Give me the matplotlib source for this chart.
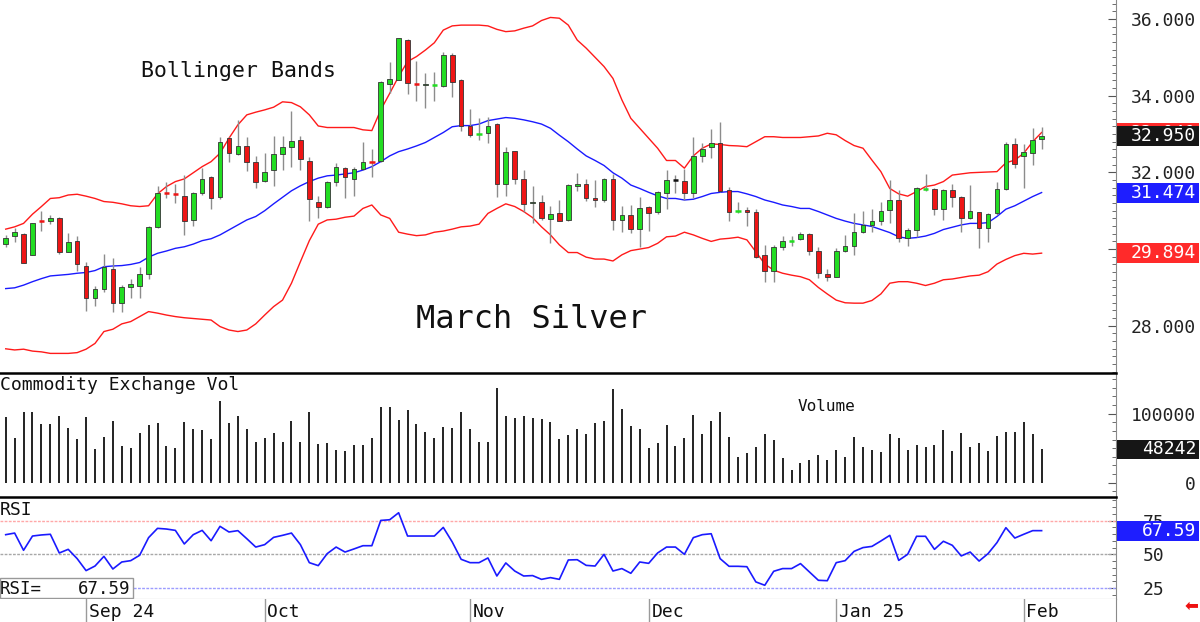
import matplotlib.pyplot as plt
from matplotlib.patches import Rectangle
from matplotlib.ticker import MultipleLocator
from matplotlib.transforms import blended_transform_factory

plt.rcParams['font.family'] = ['DejaVu Sans Mono', 'DejaVu Sans']

# daily OHLC, March silver (Aug 2024 - Feb 2025)
opens = [30.13, 30.35, 30.39, 29.85, 30.75, 30.72, 30.82, 29.92, 30.20, 29.56,
         28.72, 28.95, 29.48, 28.59, 29.01, 29.04, 29.35, 30.57, 31.47, 31.44,
         31.39, 30.76, 31.45, 31.89, 31.35, 32.89, 32.48, 32.69, 32.26, 31.78,
         32.05, 32.48, 32.65, 32.85, 32.29, 31.23, 31.09, 31.74, 32.11, 31.82,
         32.08, 32.27, 32.29, 34.30, 34.41, 35.44, 34.30, 34.27, 34.27, 34.24,
         35.06, 34.40, 33.21, 32.99, 33.02, 33.26, 31.69, 32.55, 31.82, 31.19,
         31.22, 30.78, 30.95, 30.76, 31.65, 31.70, 31.34, 31.28, 31.82, 30.76,
         30.89, 30.53, 31.09, 30.96, 31.47, 31.80, 31.78, 31.45, 32.43, 32.65,
         32.76, 31.54, 30.98, 31.02, 30.97, 29.84, 29.44, 30.05, 30.20, 30.25,
         30.39, 29.95, 29.35, 29.28, 29.95, 30.08, 30.45, 30.63, 30.72, 31.02,
         31.28, 30.28, 30.51, 31.57, 31.57, 31.04, 31.54, 31.37, 30.82, 30.96,
         30.54, 30.93, 31.56, 32.74, 32.43, 32.51, 32.88]
highs = [30.37, 30.54, 30.41, 30.69, 31.00, 30.88, 30.84, 30.41, 30.34, 29.67,
         29.04, 29.86, 29.78, 29.06, 29.21, 29.54, 30.60, 31.65, 31.76, 31.71,
         31.92, 31.49, 32.11, 31.91, 32.93, 32.93, 33.37, 32.93, 32.43, 32.50,
         32.95, 32.95, 33.61, 32.95, 32.41, 31.39, 31.77, 32.24, 32.15, 32.15,
         32.78, 32.61, 34.37, 34.89, 35.51, 35.47, 34.90, 34.58, 34.63, 35.15,
         35.12, 34.44, 33.64, 33.41, 33.45, 33.28, 32.67, 32.57, 32.05, 31.65,
         31.41, 31.13, 31.28, 31.69, 31.99, 31.82, 31.80, 31.85, 31.96, 31.13,
         31.15, 31.35, 31.13, 31.52, 32.05, 31.93, 32.09, 32.93, 32.76, 33.12,
         33.32, 31.61, 31.24, 31.11, 31.04, 30.11, 30.11, 30.34, 30.34, 30.45,
         30.41, 30.05, 29.47, 30.02, 30.37, 30.95, 31.00, 31.04, 31.24, 31.80,
         31.54, 30.54, 31.61, 31.96, 31.59, 31.56, 31.69, 31.39, 31.67, 30.98,
         30.95, 31.76, 32.78, 32.89, 32.74, 33.17, 33.19]
lows = [30.06, 30.19, 29.63, 29.84, 30.48, 30.65, 29.86, 29.92, 29.44, 28.39,
        28.52, 28.89, 28.35, 28.37, 28.72, 28.73, 29.22, 30.55, 31.33, 31.21,
        30.38, 30.59, 31.41, 31.04, 31.31, 32.26, 32.46, 32.04, 31.60, 31.76,
        31.65, 32.05, 32.15, 32.05, 30.73, 30.82, 31.07, 31.65, 31.32, 31.38,
        32.06, 31.89, 32.27, 34.08, 34.41, 34.04, 33.86, 33.69, 33.86, 34.22,
        33.97, 33.09, 32.91, 32.85, 32.77, 31.35, 31.38, 31.71, 30.98, 30.69,
        30.77, 30.17, 30.72, 30.74, 31.52, 31.25, 31.11, 31.22, 30.50, 30.44,
        30.41, 30.06, 30.48, 30.91, 31.04, 31.47, 31.28, 31.34, 32.26, 32.38,
        31.50, 30.73, 30.93, 30.59, 29.76, 29.13, 29.15, 29.98, 30.08, 30.24,
        29.85, 29.24, 29.17, 29.26, 29.93, 29.85, 30.41, 30.45, 30.63, 30.67,
        30.19, 30.08, 30.32, 31.52, 30.89, 30.76, 31.11, 30.44, 30.78, 30.02,
        30.19, 30.89, 31.54, 32.11, 31.58, 32.19, 32.61]
closes = [30.30, 30.44, 29.65, 30.67, 30.73, 30.82, 29.92, 30.18, 29.61, 28.73,
          28.97, 29.52, 28.59, 29.00, 29.08, 29.35, 30.58, 31.45, 31.45, 31.42,
          30.74, 31.47, 31.84, 31.34, 32.80, 32.51, 32.69, 32.28, 31.76, 32.02,
          32.47, 32.67, 32.83, 32.34, 31.30, 31.11, 31.75, 32.13, 31.87, 32.08,
          32.27, 32.25, 34.36, 34.43, 35.50, 34.32, 34.29, 34.31, 34.28, 35.07,
          34.35, 33.21, 32.97, 33.00, 33.22, 31.71, 32.52, 31.84, 31.18, 31.23,
          30.81, 30.91, 30.73, 31.67, 31.71, 31.32, 31.28, 31.83, 30.76, 30.88,
          30.53, 31.06, 30.95, 31.49, 31.80, 31.80, 31.45, 32.43, 32.60, 32.76,
          31.52, 30.97, 30.99, 30.96, 29.79, 29.44, 30.05, 30.20, 30.22, 30.39,
          29.96, 29.37, 29.28, 29.95, 30.08, 30.45, 30.64, 30.72, 31.00, 31.28,
          30.28, 30.51, 31.58, 31.58, 31.04, 31.54, 31.37, 30.82, 31.00, 30.54,
          30.92, 31.56, 32.74, 32.22, 32.54, 32.85, 32.95]

# Bollinger bands as drawn on the chart
upper = [30.52, 30.58, 30.67, 30.91, 31.11, 31.32, 31.34, 31.41, 31.43, 31.38,
         31.32, 31.24, 31.22, 31.18, 31.13, 31.11, 31.13, 31.44, 31.63, 31.76,
         31.83, 31.99, 32.15, 32.28, 32.50, 32.89, 33.24, 33.50, 33.57, 33.63,
         33.70, 33.84, 33.82, 33.71, 33.50, 33.21, 33.17, 33.17, 33.17, 33.17,
         33.11, 33.09, 33.63, 34.06, 34.50, 34.89, 35.02, 35.19, 35.38, 35.71,
         35.82, 35.84, 35.84, 35.84, 35.82, 35.73, 35.67, 35.69, 35.76, 35.82,
         35.96, 36.04, 36.02, 35.84, 35.45, 35.24, 35.00, 34.76, 34.45, 33.89,
         33.41, 33.15, 32.89, 32.63, 32.31, 32.31, 32.11, 32.43, 32.63, 32.74,
         32.73, 32.70, 32.69, 32.67, 32.80, 32.93, 32.93, 32.91, 32.91, 32.91,
         32.93, 32.95, 33.02, 32.98, 32.83, 32.70, 32.63, 32.32, 32.02, 31.58,
         31.44, 31.38, 31.50, 31.63, 31.67, 31.76, 31.93, 31.96, 31.99, 32.00,
         32.01, 32.02, 32.25, 32.32, 32.50, 32.80, 33.04]
middle = [28.97, 28.99, 29.06, 29.15, 29.23, 29.30, 29.32, 29.34, 29.37, 29.39,
          29.44, 29.54, 29.56, 29.57, 29.60, 29.65, 29.79, 29.89, 29.95, 30.02,
          30.06, 30.13, 30.22, 30.27, 30.37, 30.50, 30.63, 30.76, 30.85, 31.00,
          31.18, 31.35, 31.52, 31.65, 31.76, 31.85, 31.91, 31.93, 31.96, 31.99,
          32.06, 32.15, 32.28, 32.43, 32.54, 32.61, 32.69, 32.78, 32.91, 33.04,
          33.19, 33.22, 33.22, 33.26, 33.35, 33.39, 33.43, 33.41, 33.37, 33.32,
          33.26, 33.15, 32.97, 32.80, 32.61, 32.43, 32.31, 32.18, 31.99, 31.85,
          31.67, 31.58, 31.48, 31.39, 31.32, 31.32, 31.28, 31.30, 31.37, 31.45,
          31.48, 31.50, 31.50, 31.44, 31.37, 31.28, 31.22, 31.15, 31.11, 31.06,
          31.06, 30.98, 30.89, 30.80, 30.73, 30.67, 30.63, 30.59, 30.51, 30.43,
          30.32, 30.28, 30.30, 30.34, 30.41, 30.51, 30.57, 30.63, 30.67, 30.67,
          30.69, 30.85, 31.04, 31.13, 31.25, 31.37, 31.474]
lower = [27.40, 27.37, 27.39, 27.34, 27.32, 27.28, 27.28, 27.28, 27.30, 27.39,
         27.54, 27.85, 27.91, 28.05, 28.11, 28.24, 28.37, 28.33, 28.28, 28.24,
         28.21, 28.19, 28.17, 28.15, 27.98, 27.89, 27.85, 27.89, 28.05, 28.28,
         28.50, 28.67, 29.11, 29.67, 30.22, 30.65, 30.76, 30.78, 30.83, 30.86,
         31.06, 31.15, 30.89, 30.80, 30.44, 30.39, 30.35, 30.37, 30.44, 30.47,
         30.52, 30.58, 30.60, 30.65, 30.93, 31.06, 31.18, 31.11, 30.98, 30.82,
         30.58, 30.37, 30.11, 29.91, 29.91, 29.79, 29.74, 29.74, 29.69, 29.85,
         29.96, 30.00, 30.04, 30.15, 30.32, 30.34, 30.44, 30.37, 30.28, 30.20,
         30.26, 30.28, 30.31, 30.24, 29.93, 29.61, 29.45, 29.37, 29.32, 29.28,
         29.20, 29.00, 28.83, 28.67, 28.60, 28.59, 28.59, 28.66, 28.83, 29.11,
         29.15, 29.15, 29.11, 29.05, 29.11, 29.20, 29.22, 29.26, 29.30, 29.32,
         29.41, 29.61, 29.73, 29.83, 29.89, 29.87, 29.894]

volume = [95200, 65200, 102900, 102900, 85500, 85500, 97100, 79700, 62800, 95200,
          48800, 66700, 89800, 52600, 50200, 72000, 83100, 86900, 52600, 50200,
          87900, 78200, 76800, 63800, 118300, 86900, 96100, 77300, 59400, 65200,
          72000, 59400, 89800, 59400, 101900, 56000, 58000, 47800, 46400, 55100,
          54100, 65200, 109200, 109200, 91300, 105800, 84500, 73400, 65200, 81100,
          79700, 101900, 77300, 58400, 59400, 137700, 97100, 94200, 96100, 94200,
          92300, 87900, 63300, 68600, 77300, 71000, 86500, 89400, 136200, 107200,
          82100, 78200, 50200, 57500, 84000, 53600, 65200, 98500, 71000, 88900,
          102900, 66700, 37200, 43500, 52200, 71000, 61800, 35700, 18400, 29000,
          33300, 40600, 32400, 47800, 37200, 66700, 51200, 47800, 44400, 71000,
          65200, 47800, 55100, 51200, 55100, 75800, 45400, 72000, 52200, 58000,
          46400, 67600, 73400, 73400, 87400, 71000, 48242]

rsi = [64.6, 65.8, 53.0, 63.6, 64.4, 64.9, 51.0, 53.7, 46.8, 37.9,
       41.3, 48.5, 39.1, 44.3, 45.3, 49.3, 62.4, 69.3, 68.8, 67.8,
       57.7, 64.6, 67.8, 60.1, 70.8, 66.6, 67.6, 61.6, 55.4, 57.2,
       62.6, 64.1, 65.8, 57.2, 43.8, 41.6, 50.5, 55.4, 51.7, 54.0,
       56.4, 56.4, 75.2, 75.7, 80.9, 63.6, 63.6, 63.6, 63.6, 70.0,
       59.2, 46.3, 43.8, 43.8, 47.3, 33.9, 43.6, 37.6, 33.9, 34.2,
       31.4, 32.7, 31.4, 45.8, 46.0, 41.8, 41.3, 50.0, 37.6, 39.4,
       35.9, 44.3, 43.3, 51.0, 55.4, 55.4, 50.0, 62.4, 64.6, 65.3,
       46.8, 41.1, 41.1, 40.8, 29.5, 27.0, 37.4, 39.4, 39.4, 43.1,
       36.9, 30.7, 30.4, 43.8, 45.3, 52.2, 55.0, 55.9, 59.9, 64.1,
       45.5, 50.0, 63.4, 63.4, 53.7, 59.7, 56.7, 48.8, 51.7, 45.0,
       50.5, 58.7, 69.8, 62.1, 64.9, 67.6, 67.59]

# first trading day of each month (bar number) and its label
month_bar = [9, 29, 52, 72, 93, 114]
month_lbl = ['Sep 24', 'Oct', 'Nov', 'Dec', 'Jan 25', 'Feb']

n = len(closes)
for arr in (opens, highs, lows, upper, middle, lower, volume, rsi):
    assert len(arr) == n, len(arr)
bars = list(range(n))

W, H = 1200, 622
AXW = 1116
fig = plt.figure(figsize=(W / 100, H / 100), dpi=100)


def panel(top, bottom):
    return fig.add_axes([0, 1 - bottom / H, AXW / W, (bottom - top) / H])


ax = panel(0, 372)
axv = panel(373, 497)
axr = panel(497, 599)
axd = panel(599, 622)

for a in (ax, axv, axr, axd):
    a.set_xlim(-0.638, 124.33)
    a.set_xticks([])
    for s in ('left', 'top', 'bottom'):
        a.spines[s].set_visible(False)
    a.spines['right'].set_color('#8a8a8a')
    a.yaxis.tick_right()
    a.tick_params(axis='y', which='both', direction='in', colors='#555555',
                  labelcolor='#222222', labelsize=13)
    a.tick_params(axis='y', which='major', length=6)
    a.tick_params(axis='y', which='minor', length=3)

# ---- price panel
ax.set_ylim(26.795, 36.495)
ax.plot(bars, upper, color='#ff1a1a', lw=1, zorder=2)
ax.plot(bars, lower, color='#ff1a1a', lw=1, zorder=2)
ax.plot(bars, middle, color='#1a1aff', lw=1, zorder=2)

for i in bars:
    o, h, l, c = opens[i], highs[i], lows[i], closes[i]
    ax.vlines(i, l, h, color='#8c8c8c', lw=1, zorder=3)
    if c > o:
        col = '#22dd22'
    elif c < o:
        col = '#ee1515'
    else:
        col = '#111111'
    if abs(c - o) < 0.035:
        ax.hlines((o + c) / 2, i - 0.3, i + 0.3, color=col, lw=1.8, zorder=4)
    else:
        ax.add_patch(Rectangle((i - 0.26, min(o, c)), 0.52, abs(c - o),
                               fc=col, ec='#333333', lw=0.6, zorder=4))

ax.set_yticks([28, 30, 32, 34, 36])
ax.set_yticklabels(['%.3f' % v for v in [28, 30, 32, 34, 36]], ha='right')
ax.yaxis.set_minor_locator(MultipleLocator(0.2))
ax.tick_params(axis='y', which='major', pad=57.5)

ax.text(141 / AXW, 1 - 77 / 372, 'Bollinger Bands', transform=ax.transAxes,
        fontsize=15.5, va='baseline', color='#111111')
ax.text(416 / AXW, 1 - 328 / 372, 'March Silver', transform=ax.transAxes,
        fontsize=23, va='baseline', color='#111111')


def value_box(a, value, text, color, half, z):
    tr = blended_transform_factory(a.transAxes, a.transData)
    a.add_patch(Rectangle((1.001, value - half), 82 / AXW, 2 * half, transform=tr,
                          fc=color, ec='none', clip_on=False, zorder=z))
    a.text(1 + 80 / AXW, value, text, transform=tr, ha='right', va='center',
           color='white', fontsize=13, clip_on=False, zorder=z + 0.5)


value_box(ax, upper[-1], '%.3f' % upper[-1], '#ff2a2a', 0.248, 5)
value_box(ax, middle[-1], '%.3f' % middle[-1], '#1e1eff', 0.26, 5)
value_box(ax, lower[-1], '%.3f' % lower[-1], '#ff2a2a', 0.255, 5)
value_box(ax, closes[-1], '%.3f' % closes[-1], '#161616', 0.25, 7)

# ---- volume panel
axv.set_ylim(-20700, 159000)
axv.spines['top'].set_visible(True)
axv.spines['top'].set_color('black')
axv.spines['top'].set_linewidth(1.8)
axv.vlines(bars, 0, volume, color='#111111', lw=1.3)
axv.set_yticks([0, 100000])
axv.set_yticklabels(['0', '100000'], ha='right')
axv.yaxis.set_minor_locator(MultipleLocator(12500))
axv.tick_params(axis='y', which='major', pad=57.5)
axv.text(0.0, 0.86, 'Commodity Exchange Vol', transform=axv.transAxes,
         fontsize=13, va='baseline', color='#111111')
axv.text(798 / AXW, 0.69, 'Volume', transform=axv.transAxes,
         fontsize=11.5, va='baseline', color='#111111')
value_box(axv, volume[-1], '%d' % volume[-1], '#161616', 13800, 5)

# ---- RSI panel
axr.set_ylim(16.8, 92.6)
axr.spines['top'].set_visible(True)
axr.spines['top'].set_color('black')
axr.spines['top'].set_linewidth(1.8)
axr.spines['bottom'].set_visible(True)
axr.spines['bottom'].set_color('#8a8a8a')
axr.axhline(75, color='#ffa8a8', lw=1, ls=(0, (2, 1)))
axr.axhline(50, color='#a8a8a8', lw=1, ls=(0, (2, 1)))
axr.axhline(25, color='#9c9cff', lw=1, ls=(0, (2, 1)))
axr.plot(bars, rsi, color='#1a1aff', lw=1.2)
axr.set_yticks([25, 50, 75])
axr.set_yticklabels(['25', '50', '75'])
axr.yaxis.set_minor_locator(MultipleLocator(5))
axr.tick_params(axis='y', which='major', pad=19.5)
axr.text(0.0, 0.82, 'RSI', transform=axr.transAxes, fontsize=13,
         va='baseline', color='#111111')
axr.add_patch(Rectangle((0, 0.01), 133 / AXW, 0.196, transform=axr.transAxes,
                        fc='white', ec='#999999', lw=1, zorder=5))
axr.text(0.0, 0.05, 'RSI=', transform=axr.transAxes, fontsize=12.5,
         va='baseline', zorder=6, color='#111111')
axr.text(130 / AXW, 0.05, '%.2f' % rsi[-1], transform=axr.transAxes,
         fontsize=12.5, va='baseline', ha='right', zorder=6, color='#111111')
value_box(axr, rsi[-1], '%.2f' % rsi[-1], '#1e1eff', 7.4, 5)

# ---- date strip
axd.set_ylim(0, 1)
axd.set_yticks([])
for b, lbl in zip(month_bar, month_lbl):
    axd.axvline(b, color='#9a9a9a', lw=1)
    axd.text(b + 0.3, 0.22, lbl, fontsize=13, va='baseline', color='#111111')

fig.text(1191 / W, 1 - 606 / H, '\u2b05', color='#ee1111', fontsize=12,
         family='DejaVu Sans', ha='center', va='center')

fig.savefig('out.png', dpi=100)
